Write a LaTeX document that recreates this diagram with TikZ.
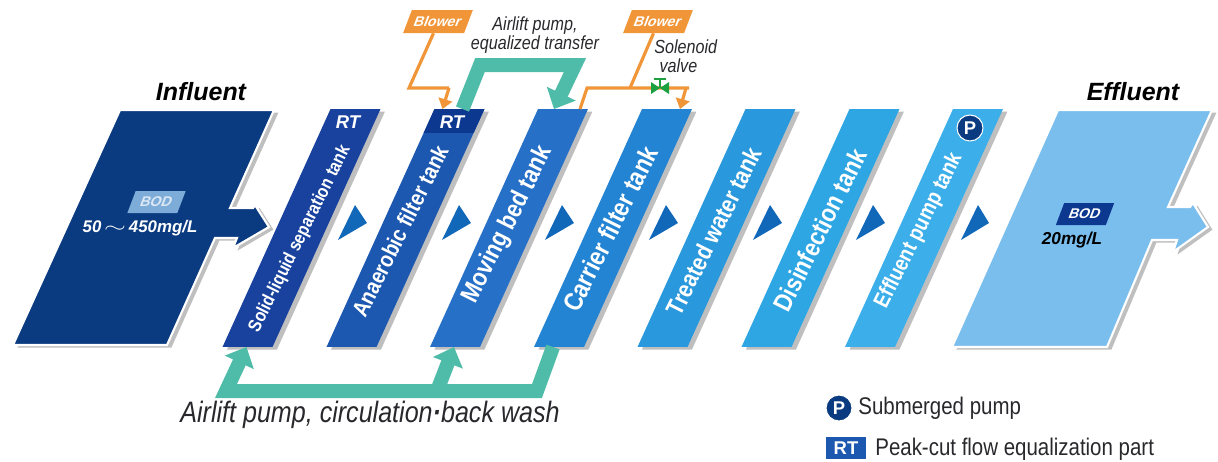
\documentclass[tikz,border=0pt]{standalone}
\usepackage{fontspec}
\setmainfont{Liberation Sans}
\newfontfamily\condfont[FakeStretch=0.85]{Liberation Sans}
\definecolor{wtnavy}{RGB}{10,58,128}
\definecolor{wtone}{RGB}{24,66,158}
\definecolor{wttwo}{RGB}{28,88,176}
\definecolor{wtthree}{RGB}{38,112,200}
\definecolor{wtfour}{RGB}{36,132,212}
\definecolor{wtfive}{RGB}{42,152,220}
\definecolor{wtsix}{RGB}{46,166,228}
\definecolor{wtseven}{RGB}{60,174,234}
\definecolor{wtpale}{RGB}{122,190,238}
\definecolor{wtband}{RGB}{12,56,144}
\definecolor{wtarrow}{RGB}{18,104,184}
\definecolor{wtteal}{RGB}{78,188,168}
\definecolor{wtorange}{RGB}{240,150,56}
\definecolor{wtgreen}{RGB}{28,160,64}
\definecolor{wttext}{RGB}{40,40,44}
\usetikzlibrary{arrows.meta,positioning,calc,shadows}

\begin{document}
\begin{tikzpicture}[
  x=0.02cm,y=-0.02cm,
  softshadow/.style={drop shadow={shadow xshift=2.5pt,shadow yshift=-1.5pt,opacity=0.25,fill=black}},
  tankblock/.style={rectangle,xslant=0.4538,minimum width=1cm,minimum height=4.76cm,
                    inner sep=0pt,outer sep=0pt,softshadow},
  tanklabel/.style={rotate=63.5,text=white,inner sep=0pt},
  endblock/.style={fill=#1,draw=white,line width=1.2pt,softshadow},
  flowmark/.style={fill=wtarrow},
  tealpipe/.style={draw=wtteal,line width=0.28cm,miter limit=8},
  tealarr/.style={tealpipe,-{Triangle[length=0.34cm,width=0.62cm]}},
  airpipe/.style={draw=wtorange,line width=1.8pt},
  airarr/.style={airpipe,-{Triangle[length=0.2cm,width=0.28cm]}},
  tagblock/.style={rectangle,xslant=0.38,inner sep=0pt,font=\bfseries\fontsize{8}{8}\selectfont},
  capt/.style={font=\bfseries\itshape\fontsize{14.2}{14.2}\selectfont,text=black,inner sep=0pt},
  note/.style={font=\condfont\itshape\fontsize{10.8}{11}\selectfont,text=wttext,align=center,inner sep=0pt},
  legend/.style={font=\condfont\fontsize{13.7}{13.7}\selectfont,text=wttext,anchor=west,inner sep=0pt},
  pumpmark/.style={circle,fill=wtnavy,draw=white,line width=0.6pt,text=white,inner sep=0pt,
                   minimum size=0.52cm,font=\bfseries\fontsize{10.5}{10.5}\selectfont},
]
  \useasboundingbox (0,0) rectangle (1218,461);

  % Influent and effluent
  \filldraw[endblock=wtnavy] (120,110) -- (274,110) -- (230,208) -- (253,208) -- (255,205)
    -- (269,227) -- (233,248) -- (237,238) -- (215,238) -- (167,345) -- (13,345) -- cycle;
  \filldraw[endblock=wtpale] (1058,110) -- (1212,110) -- (1168,207) -- (1190,207) -- (1193,203)
    -- (1208,227) -- (1173,252) -- (1177,240) -- (1152,240) -- (1107,347) -- (952,347) -- cycle;

  % Tanks
  \node[tankblock,fill=wtone] (t1) at (301.5,228) {};
  \node[tankblock,fill=wttwo] (t2) at (405.5,228) {};
  \node[tankblock,fill=wtthree] (t3) at (509,228) {};
  \node[tankblock,fill=wtfour] (t4) at (613,228) {};
  \node[tankblock,fill=wtfive] (t5) at (716.5,228) {};
  \node[tankblock,fill=wtsix] (t6) at (820.5,228) {};
  \node[tankblock,fill=wtseven] (t7) at (924,228) {};

  % RT band on the second tank
  \fill[wtband] (t2.north west) -- (t2.north east)
    -- ($(t2.north east)!0.1!(t2.south east)$)
    -- ($(t2.north west)!0.1!(t2.south west)$) -- cycle;

  % Tank names
  \node[tanklabel,font=\condfont\bfseries\fontsize{10.5}{10.5}\selectfont] (n1) at (300,239) {Solid-liquid separation tank};
  \node[tanklabel,font=\condfont\bfseries\fontsize{13}{13}\selectfont] (n2) at (400,231) {Anaerobic filter tank};
  \node[tanklabel,font=\condfont\bfseries\fontsize{14.6}{14.6}\selectfont] (n3) at (508,225) {Moving bed tank};
  \node[tanklabel,font=\condfont\bfseries\fontsize{15}{15}\selectfont] (n4) at (610,229) {Carrier filter tank};
  \node[tanklabel,font=\condfont\bfseries\fontsize{14}{14}\selectfont] (n5) at (714,231) {Treated water tank};
  \node[tanklabel,font=\condfont\bfseries\fontsize{14.7}{14.7}\selectfont] (n6) at (820,230) {Disinfection tank};
  \node[tanklabel,font=\condfont\bfseries\fontsize{12.6}{12.6}\selectfont] (n7) at (919,231) {Effluent pump tank};

  % Flow marks
  \fill[flowmark] (355,205) -- (367,223) -- (338,240) -- cycle;
  \fill[flowmark] (459,205) -- (471,223) -- (442,240) -- cycle;
  \fill[flowmark] (562,205) -- (574,223) -- (545,240) -- cycle;
  \fill[flowmark] (666,205) -- (678,223) -- (649,240) -- cycle;
  \fill[flowmark] (770,205) -- (782,223) -- (753,240) -- cycle;
  \fill[flowmark] (873,205) -- (885,223) -- (856,240) -- cycle;
  \fill[flowmark] (978,205) -- (989,223) -- (961,240) -- cycle;

  % Captions and BOD tags
  \node[capt] (influent) at (201,92) {Influent};
  \node[capt] (effluent) at (1133,92) {Effluent};
  \node[tagblock,fill=wtarrow!55!white,text=white!85!wtarrow,minimum width=1cm,minimum height=0.44cm] (bodin) at (156.5,202) {BOD};
  \node[font=\bfseries\itshape\fontsize{9.6}{9.6}\selectfont,text=white,inner sep=0pt] (bodinval) at (140,228)
    {50\,\scalebox{1.6}[1]{$\sim$}\,450mg/L};
  \node[tagblock,fill=wtband,text=white,minimum width=1cm,minimum height=0.44cm] (bodout) at (1085,214) {BOD};
  \node[font=\bfseries\itshape\fontsize{9.8}{9.8}\selectfont,text=black,inner sep=0pt] (bodoutval) at (1072,240) {20mg/L};

  % Tank marks
  \node[font=\bfseries\itshape\fontsize{10.5}{10.5}\selectfont,text=white,inner sep=0pt] (rt1) at (348,122) {RT};
  \node[font=\bfseries\itshape\fontsize{10.5}{10.5}\selectfont,text=white,inner sep=0pt] (rt2) at (452,122) {RT};
  \node[pumpmark] (p7) at (970,128) {P};

  % Airlift pump, upper
  \coordinate (upfrom) at ($(t2.north west)+(28,0)$);
  \coordinate (upto) at ($(t3.north west)+(16,0)$);
  \draw[tealarr] (upfrom) -- (480,65) -- (575,65) -- (upto);
  \node[note] (uplabel) at (535,35) {Airlift pump,\\equalized transfer};

  % Airlift pump, lower
  \coordinate (lowfrom) at ($(t4.south west)+(19,0)$);
  \coordinate (lowto1) at ($(t1.south west)+(24,0)$);
  \coordinate (lowto3) at ($(t3.south west)+(24,0)$);
  \coordinate (lowmid) at (437,391);
  \draw[tealarr] (lowfrom) -- (537,391) -- (226,391) -- (lowto1);
  \draw[tealarr] (lowmid) -- (lowto3);
  \node[note,font=\condfont\itshape\fontsize{16.8}{16.8}\selectfont] (lowlabel) at (370,415) {Airlift pump, circulation{\bfseries·}back wash};

  % Blowers
  \node[tagblock,fill=wtorange,text=white,minimum width=1.22cm,minimum height=0.46cm] (blow1) at (438,21.5) {Blower};
  \node[tagblock,fill=wtorange,text=white,minimum width=1.22cm,minimum height=0.46cm] (blow2) at (658,21.5) {Blower};
  \coordinate (air1to) at ($(t2.north west)+(8,0)$);
  \coordinate (air2to) at ($(t4.north west)+(38,0)$);
  \coordinate (air2from) at ($(t3.north east)+(-8,0)$);
  \draw[airpipe] (blow1.south) -- (409,88) -- (449,88);
  \draw[airarr] (449,88) -- (air1to);
  \draw[airpipe] (blow2.south) -- (630,88);
  \draw[airpipe] (air2from) -- (587,88) -- (689,88);
  \draw[airarr] (686,88) -- (air2to);

  % Solenoid valve
  \node[note,anchor=west,align=left] (vlabel) at (654,56) {Solenoid\\\hspace*{3pt}valve};
  \coordinate (valve) at (660,88);
  \fill[wtgreen] (valve) -- ++(-9,-6) -- ++(0,12) -- cycle;
  \fill[wtgreen] (valve) -- ++(9,-6) -- ++(0,12) -- cycle;
  \draw[wtgreen,line width=1.4pt] (valve) -- ++(0,-9) ++(-6,0) -- ++(12,0);

  % Legend
  \node[pumpmark] (pkey) at (839,408) {P};
  \node[legend] (pkeytext) at (858,408) {Submerged pump};
  \node[fill=wttwo,text=white,minimum width=0.8cm,minimum height=0.44cm,inner sep=0pt,
        font=\bfseries\fontsize{10.5}{10.5}\selectfont] (rtkey) at (846,448) {RT};
  \node[legend] (rtkeytext) at (875,449) {Peak-cut flow equalization part};
\end{tikzpicture}
\end{document}
